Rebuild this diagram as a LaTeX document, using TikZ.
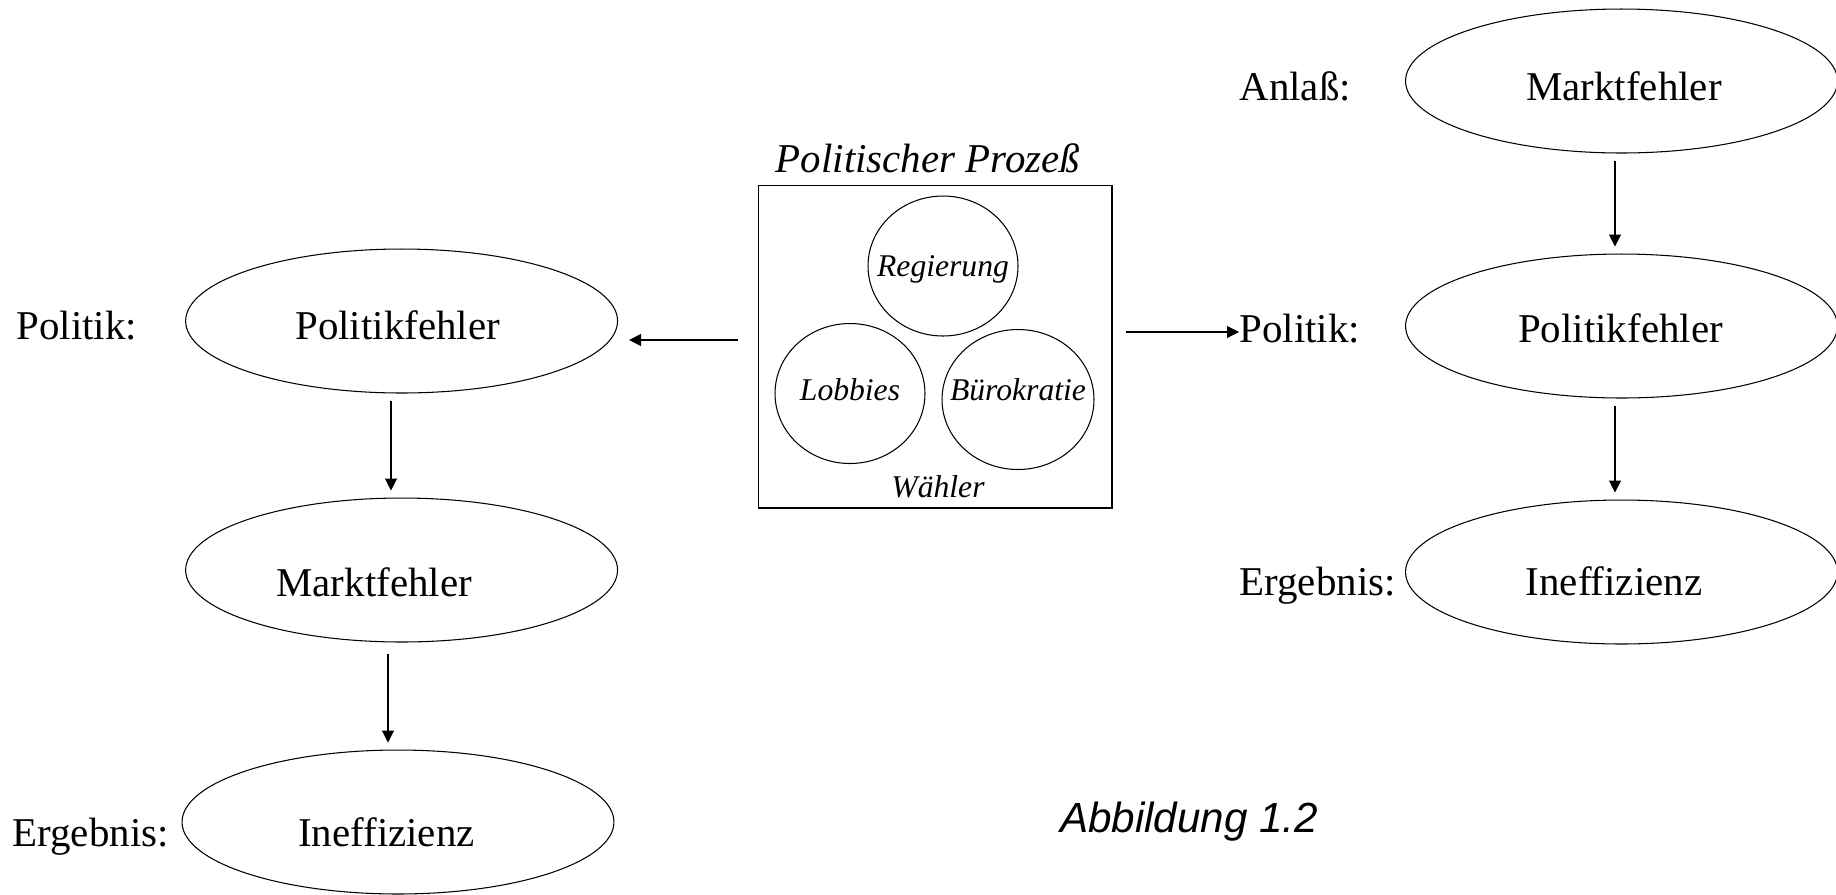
\documentclass[tikz,border=0pt]{standalone}
\usepackage{fontspec}
\setmainfont{Liberation Serif}
\newfontfamily\abbfont{Liberation Sans}
\usepackage{tikz}
\usetikzlibrary{shapes.geometric,arrows.meta,positioning}
\tikzset
{
	fehlernode/.style = {ellipse, draw=black, inner sep=0pt, minimum width=8.64cm, minimum height=2.88cm},
	fehlertext/.style = {inner sep=0pt, text height=0.8cm, text depth=0pt, font=\fontsize{23.3}{28}\selectfont},
	akteurnode/.style = {ellipse, draw=black, inner sep=0pt, minimum width=3cm, minimum height=2.8cm},
	akteurtext/.style = {inner sep=0pt, font=\fontsize{18}{22}\selectfont\itshape},
	labelnode/.style  = {inner sep=0pt, anchor=base west, font=\fontsize{23.3}{28}\selectfont},
	prozessbox/.style = {rectangle, draw=black, minimum width=7.08cm, minimum height=6.46cm},
	pfeil/.style      = {-{Triangle[length=0.24cm,width=0.24cm]}, shorten <=0.14cm, shorten >=0.14cm}
}

\begin{document}
\begin{tikzpicture}[x=0.02cm, y=-0.02cm, line width=0.6pt]
\useasboundingbox (0,0) rectangle (1836,894);

\node[fehlernode, label={[fehlertext, name=pf1t, xshift=-0.08cm, yshift=0.04cm]center:Politikfehler}] (pf1) at (401.6,321) {};
\node[fehlernode, label={[fehlertext, name=mf1t, xshift=-0.55cm, yshift=-0.12cm]center:Marktfehler}] (mf1) at (401.6,570) {};
\node[fehlernode, label={[fehlertext, name=if1t, xshift=-0.23cm, yshift=-0.08cm]center:Ineffizienz}] (if1) at (398,822) {};
\node[labelnode] (lpol1) at (16,0 |- pf1t.base) {Politik:};
\node[labelnode] (lerg1) at (12,0 |- if1t.base) {Ergebnis:};

\node[prozessbox] (box) at (935,346.5) {};
\node[akteurtext, font=\fontsize{23.3}{28}\selectfont\itshape] (titel) at (928,158) {Politischer Prozeß};
\node[akteurnode, label={[akteurtext, yshift=-0.06cm]center:Regierung}] (reg) at (943,266) {};
\node[akteurnode, label={[akteurtext, yshift=0.08cm]center:Lobbies}] (lob) at (850,393.5) {};
\node[akteurnode, minimum width=3.04cm, label={[akteurtext, yshift=0.2cm]center:Bürokratie}] (bur) at (1018,399.5) {};
\node[akteurtext] (wah) at (938,487) {Wähler};

\node[fehlernode, label={[fehlertext, name=mf2t, xshift=0.05cm, yshift=0.02cm]center:Marktfehler}] (mf2) at (1621.5,81) {};
\node[fehlernode, label={[fehlertext, name=pf2t, xshift=-0.02cm, yshift=0.08cm]center:Politikfehler}] (pf2) at (1621.5,326) {};
\node[fehlernode, label={[fehlertext, name=if2t, xshift=-0.15cm, yshift=-0.06cm]center:Ineffizienz}] (if2) at (1621.5,572) {};
\node[labelnode] (lanl2) at (1239,0 |- mf2t.base) {Anlaß:};
\node[labelnode] (lpol2) at (1239,0 |- pf2t.base) {Politik:};
\node[labelnode] (lerg2) at (1239,0 |- if2t.base) {Ergebnis:};

\node[font=\abbfont\itshape\fontsize{24}{29}\selectfont] (abb) at (1189,822) {Abbildung 1.2};

\draw[pfeil, shorten <=0.4cm, shorten >=0.22cm] (box.west |- 0,340) -- (pf1.east |- 0,340);
\draw[pfeil, shorten <=0.26cm, shorten >=0pt] (box.east |- 0,332) -- (lpol2.west |- 0,332);
\draw[pfeil] (pf1.south -| 391,0) -- (mf1.north -| 391,0);
\draw[pfeil, shorten <=0.22cm] (mf1.south -| 388,0) -- (if1.north -| 388,0);
\draw[pfeil] (mf2.south -| 1615,0) -- (pf2.north -| 1615,0);
\draw[pfeil] (pf2.south -| 1615,0) -- (if2.north -| 1615,0);
\end{tikzpicture}
\end{document}
